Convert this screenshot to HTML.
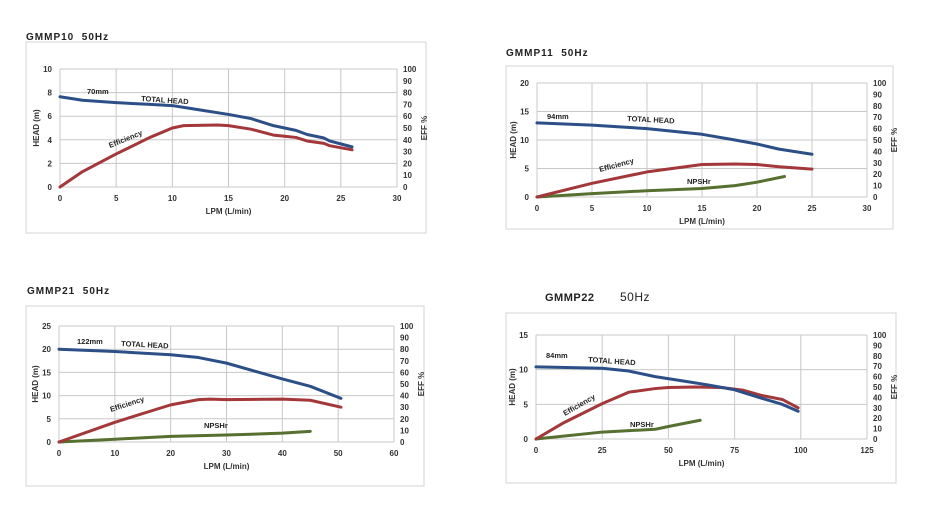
<!DOCTYPE html>
<html><head><meta charset="utf-8"><style>
html,body{margin:0;padding:0;background:#fff;}
svg{display:block;font-family:"Liberation Sans",sans-serif;}
</style></head><body>
<svg id="s" width="940" height="510" viewBox="0 0 940 510" xmlns="http://www.w3.org/2000/svg"></svg>
<script>
const S=document.getElementById('s');let h='';
function chart(c){
 const {box,x0,x1,y0,y1,xmax,xstep,ymax,ystep}=c;
 h+=`<rect x="${box[0]}" y="${box[1]}" width="${box[2]}" height="${box[3]}" fill="#fff" stroke="#d4d4d4" stroke-width="1"/>`;
 h+=c.title;
 const X=v=>x0+(x1-x0)*v/xmax, Y=v=>y0-(y0-y1)*v/ymax, YE=v=>y0-(y0-y1)*v/100;
 for(let v=0;v<=xmax+1e-9;v+=xstep){const x=X(v);h+=`<line x1="${x}" y1="${y1}" x2="${x}" y2="${y0}" stroke="#c8c8c8" stroke-width="1"/>`;
  h+=`<text x="${x}" y="${y0+14}" font-size="8" font-weight="bold" fill="#333" text-anchor="middle">${v}</text>`;}
 for(let v=0;v<=ymax+1e-9;v+=ystep){const y=Y(v);h+=`<line x1="${x0}" y1="${y}" x2="${x1}" y2="${y}" stroke="#c8c8c8" stroke-width="1"/>`;
  h+=`<text x="${x0-8}" y="${y+3}" font-size="8" font-weight="bold" fill="#333" text-anchor="end">${v}</text>`;}
 for(let v=0;v<=100;v+=10){h+=`<text x="${x1+6}" y="${YE(v)+3}" font-size="8" font-weight="bold" fill="#333">${v}</text>`;}
 h+=`<text x="${(x0+x1)/2}" y="${y0+27}" font-size="8" font-weight="bold" fill="#333" text-anchor="middle">LPM (L/min)</text>`;
 h+=`<text transform="translate(${x0-21},${(y0+y1)/2}) rotate(-90)" font-size="8" font-weight="bold" fill="#333" text-anchor="middle">HEAD (m)</text>`;
 h+=`<text transform="translate(${x1+30},${(y0+y1)/2}) rotate(-90)" font-size="8" font-weight="bold" fill="#333" text-anchor="middle">EFF %</text>`;
 const line=(pts,f,col)=>{h+=`<polyline points="${pts.map(p=>X(p[0])+','+f(p[1])).join(' ')}" fill="none" stroke="${col}" stroke-width="3" stroke-linejoin="round" stroke-linecap="round"/>`;};
 if(c.np)line(c.np,Y,'#56702f');
 line(c.eff,YE,'#a3373a');
 line(c.head,Y,'#2c4f87');
 h+=c.labels;
}
const lab=(x,y,t,r)=>`<text transform="translate(${x},${y})${r?' rotate('+r+')':''}" font-size="7.5" font-weight="bold" fill="#222">${t}</text>`;
chart({box:[26,42,400,191],x0:60,x1:397,y0:187,y1:69,xmax:30,xstep:5,ymax:10,ystep:2,
 title:`<text x="26" y="40" font-size="10" font-weight="bold" fill="#222" letter-spacing="1">GMMP10 &#160;50Hz</text>`,
 head:[[0,7.65],[2,7.35],[5,7.15],[8,7],[10,6.9],[12,6.6],[15,6.15],[17,5.8],[19,5.2],[21,4.8],[22,4.45],[23.5,4.15],[24,3.9],[26,3.4]],
 eff:[[0,0],[2,13],[5,28],[8,42],[10,50],[11,52],[14,52.5],[15,52],[17,49],[19,44],[20,43],[21,42],[22,39],[23.5,37],[24,35],[26,31.5]],
 labels:lab(87,94,'70mm')+lab(141,101,'TOTAL HEAD',4)+lab(110,148,'Efficiency',-22)});
chart({box:[506,66,387,163],x0:537,x1:867,y0:197,y1:83,xmax:30,xstep:5,ymax:20,ystep:5,
 title:`<text x="506" y="56" font-size="10" font-weight="bold" fill="#222" letter-spacing="1">GMMP11 &#160;50Hz</text>`,
 head:[[0,13],[5,12.6],[10,12],[13,11.4],[15,11],[18,10],[20,9.3],[22,8.4],[25,7.5]],
 eff:[[0,0],[5,12],[10,22],[15,28.5],[18,29],[20,28.5],[22,26.5],[25,24.5]],
 np:[[0,0],[5,0.6],[10,1.1],[15,1.5],[18,2],[20,2.6],[22.5,3.6]],
 labels:lab(547,119,'94mm')+lab(627,121,'TOTAL HEAD',3)+lab(600,172,'Efficiency',-15)+lab(687,184,'NPSHr')});
chart({box:[26,306,398,180],x0:59,x1:394,y0:442,y1:326,xmax:60,xstep:10,ymax:25,ystep:5,
 title:`<text x="27" y="294" font-size="10" font-weight="bold" fill="#222" letter-spacing="1">GMMP21 &#160;50Hz</text>`,
 head:[[0,20],[10,19.5],[20,18.8],[25,18.2],[30,17],[35,15.3],[40,13.6],[45,12],[50.5,9.4]],
 eff:[[0,0],[10,17],[20,32],[25,36.5],[27,37],[30,36.5],[40,37],[45,36],[50.5,30]],
 np:[[0,0],[10,0.6],[20,1.2],[30,1.5],[40,1.9],[45,2.3]],
 labels:lab(77,344,'122mm')+lab(121,346,'TOTAL HEAD',3)+lab(111,412,'Efficiency',-18)+lab(204,428,'NPSHr')});
chart({box:[506,313,390,170],x0:536,x1:867,y0:439,y1:335,xmax:125,xstep:25,ymax:15,ystep:5,
 title:`<text x="545" y="301" font-size="11" font-weight="bold" fill="#222" letter-spacing="0.5">GMMP22</text><text x="620" y="301" font-size="12" fill="#222" letter-spacing="0.5">50Hz</text>`,
 head:[[0,10.4],[25,10.2],[35,9.8],[45,9],[55,8.4],[65,7.8],[75,7.1],[85,5.9],[93,5],[99,4]],
 eff:[[0,0],[10,15],[25,34],[35,45],[45,48.5],[50,49.5],[60,50],[70,49.5],[78,47],[85,42],[93,38],[99,30]],
 np:[[0,0],[25,1],[45,1.4],[50,1.8],[62,2.7]],
 labels:lab(546,358,'84mm')+lab(588,362,'TOTAL HEAD',4)+lab(565,416,'Efficiency',-30)+lab(630,427,'NPSHr')});
S.innerHTML=h;
</script>
</body></html>
